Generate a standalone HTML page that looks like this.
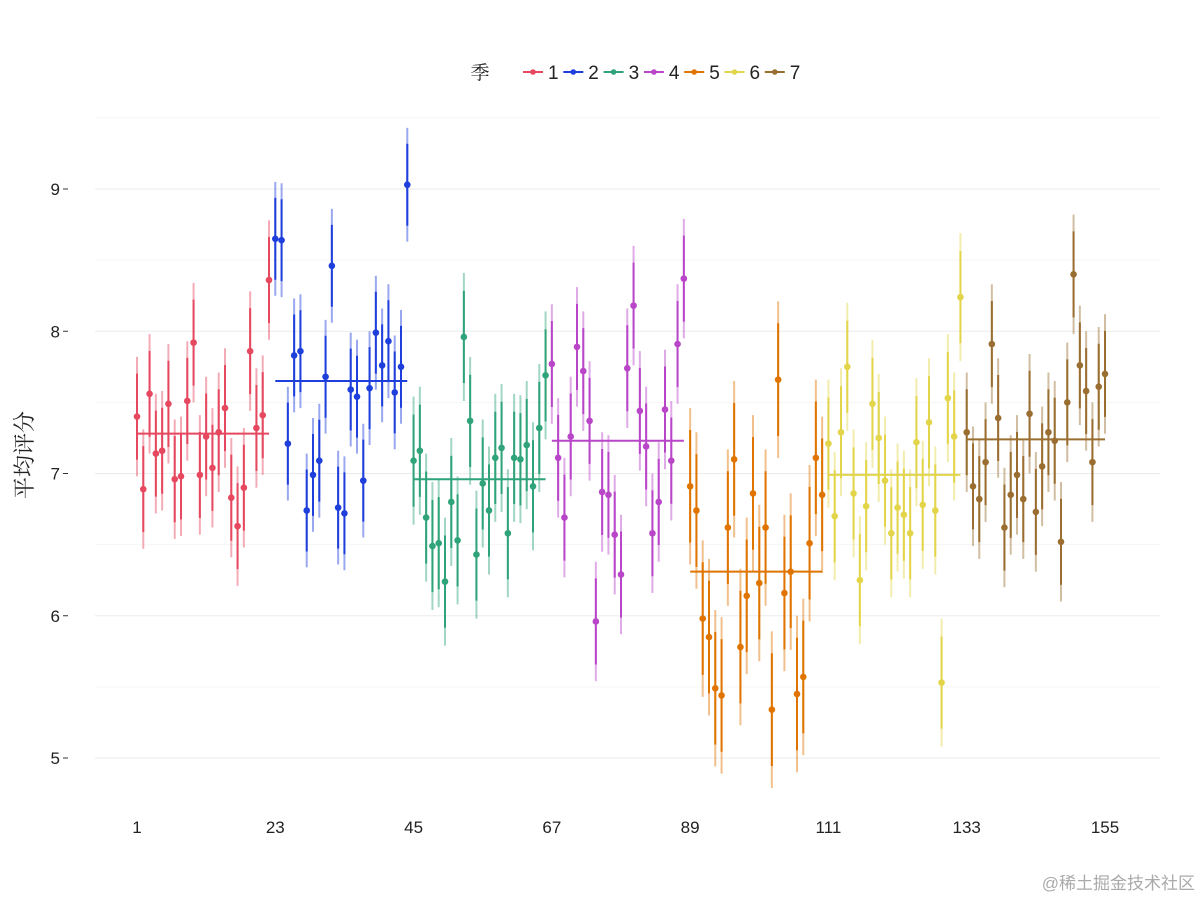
<!DOCTYPE html>
<html><head><meta charset="utf-8"><style>
body{margin:0;background:#fff;}
svg text{font-family:"Liberation Sans","Noto Sans CJK SC",sans-serif;}
</style></head><body>
<svg id="chart" width="1200" height="900" xmlns="http://www.w3.org/2000/svg">
<g id="grid"></g>
<g id="axes"></g>
<g id="marks"></g>
<g id="legend"></g>
<text x="32" y="455" font-size="22" fill="#222" text-anchor="middle" transform="rotate(-90 32 455)" style="font-family:'Liberation Serif','Noto Serif CJK SC',serif">平均评分</text>
<text x="1195" y="889" font-size="17" fill="#aaa" text-anchor="end">@稀土掘金技术社区</text>
</svg>
<script>
const seasons=["1","2","3","4","5","6","7"];
const colors=["#e5485f","#1f3fdc","#2fa37a","#b945c9","#e07400","#e3d54a","#9a6e30"];
const s1=[7.40,6.89,7.56,7.14,7.16,7.49,6.96,6.98,7.51,7.92,6.99,7.26,7.04,7.29,7.46,6.83,6.63,6.90,7.86,7.32,7.41,8.36];
const s2=[8.65,8.64,7.21,7.83,7.86,6.74,6.99,7.09,7.68,8.46,6.76,6.72,7.59,7.54,6.95,7.60,7.99,7.76,7.93,7.57,7.75,9.03];
const s3=[7.09,7.16,6.69,6.49,6.51,6.24,6.80,6.53,7.96,7.37,6.43,6.93,6.74,7.11,7.18,6.58,7.11,7.10,7.20,6.91,7.32,7.69];
const s4=[7.77,7.11,6.69,7.26,7.89,7.72,7.37,5.96,6.87,6.85,6.57,6.29,7.74,8.18,7.44,7.19,6.58,6.80,7.45,7.09,7.91,8.37];
const s5=[6.91,6.74,5.98,5.85,5.49,5.44,6.62,7.10,5.78,6.14,6.86,6.23,6.62,5.34,7.66,6.16,6.31,5.45,5.57,6.51,7.11,6.85];
const s6=[7.21,6.70,7.29,7.75,6.86,6.25,6.77,7.49,7.25,6.95,6.58,6.76,6.71,6.58,7.22,6.78,7.36,6.74,5.53,7.53,7.26,8.24];
const s7=[7.29,6.91,6.82,7.08,7.91,7.39,6.62,6.85,6.99,6.82,7.42,6.73,7.05,7.29,7.23,6.52,7.50,8.40,7.76,7.58,7.08,7.61,7.70];
const seasonMeans=[7.28,7.65,6.96,7.23,6.31,6.99,7.24];
const seasonErr=[0.42,0.40,0.45,0.42,0.55,0.45,0.42];
const xTicks=[1,23,45,67,89,111,133,155];
const yTicks=[5,6,7,8,9];
const series=[s1,s2,s3,s4,s5,s6,s7];

const NS="http://www.w3.org/2000/svg";
const X=v=>137+(v-1)*(1105-137)/154;
const Y=v=>758-(v-5)*(758-189)/4;
function mk(tag,attrs,parent){const e=document.createElementNS(NS,tag);for(const k in attrs)e.setAttribute(k,attrs[k]);parent.appendChild(e);return e;}
const grid=document.getElementById('grid'),axes=document.getElementById('axes'),marks=document.getElementById('marks'),legend=document.getElementById('legend');
for(let v=4.5;v<=9.5;v+=0.5){
  if(Y(v)<100||Y(v)>800)continue;
  const l=mk('line',{x1:95,x2:1160,y1:Y(v),y2:Y(v),stroke:Number.isInteger(v)?'#ebebeb':'#f5f5f5','stroke-width':1},grid);
  
  
}
yTicks.forEach(t=>{
  const tx=mk('text',{x:60,y:Y(t)+6,'font-size':17,'text-anchor':'end',fill:'#222'},axes);tx.textContent=t;
  
  
  const tk=mk('line',{x1:63,x2:68,y1:Y(t),y2:Y(t),stroke:'#333','stroke-width':1},axes);
  
  
});
xTicks.forEach(t=>{
  const tx=mk('text',{x:X(t),y:833,'font-size':17,'text-anchor':'middle',fill:'#222'},axes);tx.textContent=t;
  
  
});
let ep=1;
series.forEach((arr,si)=>{
  const c=colors[si],e=seasonErr[si],start=ep;
  arr.forEach(v=>{
    const x=X(ep);
    const o=mk('line',{x1:x,x2:x,y1:Y(v+e),y2:Y(v-e),stroke:c,'stroke-opacity':0.45,'stroke-width':2},marks);
    
    
    const i=mk('line',{x1:x,x2:x,y1:Y(v+e*0.72),y2:Y(v-e*0.72),stroke:c,'stroke-width':2},marks);
    
    
    const p=mk('circle',{cx:x,cy:Y(v),r:3.3,fill:c},marks);
    
    
    ep++;
  });
  const m=mk('line',{x1:X(start),x2:X(ep-1),y1:Y(seasonMeans[si]),y2:Y(seasonMeans[si]),stroke:c,'stroke-width':2},marks);
  
  
});
const lt=mk('text',{x:480,y:79,'font-size':19,'text-anchor':'middle',fill:'#222',style:"font-family:'Liberation Serif','Noto Serif CJK SC',serif"},legend);lt.textContent='季';


seasons.forEach((s,i)=>{
  const x0=523+i*40.3;
  const g=mk('g',{},legend);
  
  
  mk('line',{x1:x0,x2:x0+20,y1:72,y2:72,stroke:colors[i],'stroke-width':2},g);
  mk('circle',{cx:x0+10,cy:72,r:2.8,fill:colors[i]},g);
  const t=mk('text',{x:x0+25,y:79,'font-size':19,fill:'#222'},g);t.textContent=s;
});
</script>
</body></html>
